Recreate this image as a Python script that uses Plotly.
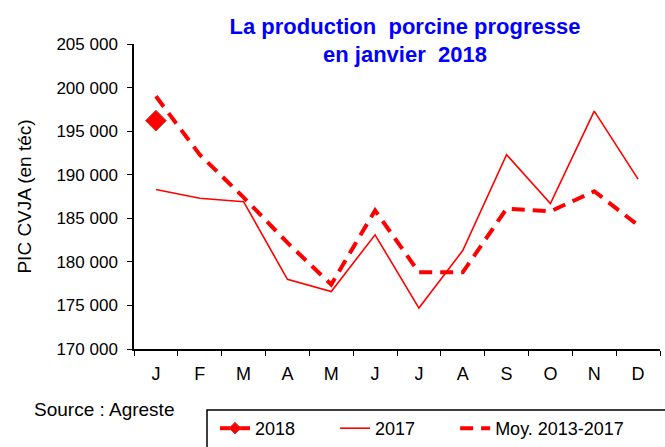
import plotly.graph_objects as go

# Mois et séries (PIC CVJA, en téc)
mois = ["J", "F", "M", "A", "M ", "J ", "J  ", "A ", "S", "O", "N", "D"]
prod_2018 = [196200, None, None, None, None, None, None, None, None, None, None, None]
prod_2017 = [188300, 187300, 186900, 178000, 176600, 183100,
             174700, 181300, 192300, 186700, 197300, 189500]
moy_2013_2017 = [199000, 192300, 187400, 182200, 177400, 185900,
                 178800, 178800, 186100, 185800, 188100, 184200]

rouge = "#ff0000"
police = "Liberation Sans, Arial"
esp = "\u00a0" * 7  # espacement entre les entrées de légende

fig = go.Figure()
fig.add_trace(go.Scatter(
    x=mois, y=prod_2018, name="2018", mode="markers", showlegend=False,
    marker=dict(symbol="diamond", size=16, color=rouge,
                line=dict(color="#c04040", width=1)),
))
# entrée de légende seule (petit losange)
fig.add_trace(go.Scatter(
    x=[None], y=[None], name="2018" + esp, mode="lines+markers",
    line=dict(color=rouge, width=4),
    marker=dict(symbol="diamond", size=9, color=rouge,
                line=dict(color="#c04040", width=1)),
))
fig.add_trace(go.Scatter(
    x=mois, y=prod_2017, name="2017" + esp, mode="lines",
    line=dict(color=rouge, width=1.6),
))
fig.add_trace(go.Scatter(
    x=mois, y=moy_2013_2017, name="Moy. 2013-2017", mode="lines",
    line=dict(color=rouge, width=4, dash="13px,8px"),
))

fig.update_layout(
    width=665, height=447,
    paper_bgcolor="white", plot_bgcolor="white",
    font=dict(family=police, size=17, color="black"),
    separators=", ",
    margin=dict(l=134, r=5, t=44, b=98),
    title=dict(
        text="<b>La production  porcine progresse<br>en janvier  2018</b>",
        x=0.609, xanchor="center", y=0.925, yanchor="top",
        font=dict(size=22, color="#0000ff"),
    ),
    xaxis=dict(
        showline=True, linecolor="black", linewidth=1.5,
        ticks="outside", ticklen=5, tickcolor="black", tickson="boundaries",
        showgrid=False, zeroline=False, automargin=False,
        tickvals=mois, ticktext=[m.strip() for m in mois],
        tickfont=dict(size=18), ticklabelstandoff=8, range=[-0.5, 11.5],
    ),
    yaxis=dict(
        range=[170000, 205000], dtick=5000, tickformat=",d",
        showline=True, linecolor="black", linewidth=1.5,
        ticks="outside", ticklen=5, tickcolor="black",
        showgrid=False, zeroline=False, automargin=False,
        ticklabelstandoff=6,
        title=dict(text="\u00a0" * 4 + "PIC CVJA (en téc)", standoff=20,
                   font=dict(size=19)),
    ),
    legend=dict(
        orientation="h", xref="container", yref="container",
        x=215 / 665, y=1 - 410 / 447, xanchor="left", yanchor="top",
        borderwidth=0, bgcolor="rgba(0,0,0,0)", font=dict(size=18),
    ),
    showlegend=True,
)

# cadre de la légende (coupé par le bord droit et le bas)
fig.add_shape(
    type="rect", xref="paper", yref="paper",
    x0=(207 - 134) / 526, x1=1.2, y0=-0.2, y1=-0.5,
    line=dict(color="black", width=1.5), fillcolor="rgba(0,0,0,0)",
)

fig.add_annotation(
    text="Source : Agreste", xref="paper", yref="paper",
    x=-0.194, y=-0.197, xanchor="left", yanchor="middle",
    showarrow=False, font=dict(size=19),
)

fig.write_html("out.html", config={"displayModeBar": False},
               post_script="document.body.style.margin='0';")
